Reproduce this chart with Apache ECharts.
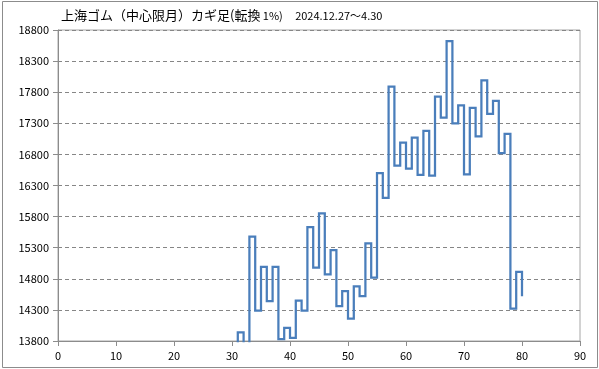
<!DOCTYPE html>
<html>
<head>
<meta charset="utf-8">
<script src="https://cdn.jsdelivr.net/npm/echarts@6/dist/echarts.min.js"></script>
<style>
html,body{margin:0;padding:0;background:#fff;}
#chart{width:599px;height:369px;}
</style>
</head>
<body>
<div id="chart"></div>
<script>
// Title
const titleMain = "上海ゴム（中心限月）カギ足(転換";
const titleSub = " 1%)     2024.12.27～4.30";

// Axis ticks
const xTicks = { min: 0, max: 90, interval: 10 };
const yTicks = { min: 13800, max: 18800, interval: 500 };

// Kagi line: first line index and the price held by each line (values below 13800 are off-chart)
const firstIndex = 30;
const kagiValues = [
  13600, 13940, 13500, 15480, 14290, 14990, 14440, 14990, 13830, 14010,
  13850, 14450, 14290, 15630, 14980, 15850, 14870, 15260, 14360, 14600,
  14160, 14680, 14520, 15370, 14820, 16500, 16100, 17890, 16620, 16990,
  16570, 17070, 16470, 17180, 16460, 17730, 17390, 18620, 17300, 17590,
  16480, 17550, 17090, 17990, 17450, 17660, 16820, 17130, 14320, 14910,
  14520
];

const seriesData = kagiValues.map((v, i) => [firstIndex + i, v]);

const chart = echarts.init(document.getElementById('chart'), null, { renderer: 'canvas' });
const labelFont = { fontFamily: 'Noto Sans CJK JP', fontSize: 11, color: '#000' };

chart.setOption({
  animation: false,
  backgroundColor: '#fff',
  graphic: [{
    type: 'rect',
    shape: { x: 2.5, y: 1.5, width: 595, height: 366 },
    style: { fill: 'none', stroke: '#8c8c8c', lineWidth: 1 },
    silent: true
  }],
  title: {
    text: '{a|' + titleMain + '}{b|' + titleSub + '}',
    left: 61,
    top: 9,
    padding: 0,
    textStyle: {
      fontWeight: 'normal',
      rich: {
        a: { fontFamily: 'Noto Sans CJK JP', fontSize: 13, fontWeight: 'normal', color: '#000' },
        b: { fontFamily: 'Noto Sans CJK JP', fontSize: 11, fontWeight: 'normal', color: '#000' }
      }
    }
  },
  grid: {
    left: 58, right: 19, top: 30, bottom: 28,
    show: true, borderColor: '#a6a6a6', borderWidth: 1,
    containLabel: false
  },
  xAxis: {
    type: 'value',
    min: xTicks.min, max: xTicks.max, interval: xTicks.interval,
    axisLine: { show: true, onZero: false, lineStyle: { color: '#8c8c8c', width: 1 } },
    axisTick: { show: true, length: 5, inside: false, lineStyle: { color: '#8c8c8c' } },
    axisLabel: Object.assign({ margin: 9 }, labelFont),
    splitLine: { show: false }
  },
  yAxis: {
    type: 'value',
    min: yTicks.min, max: yTicks.max, interval: yTicks.interval,
    axisLine: { show: true, onZero: false, lineStyle: { color: '#8c8c8c', width: 1 } },
    axisTick: { show: true, length: 5, inside: false, lineStyle: { color: '#8c8c8c' } },
    axisLabel: Object.assign({ margin: 9, formatter: v => String(v) }, labelFont),
    splitLine: { show: true, lineStyle: { color: '#868686', width: 1, type: [4, 3] } }
  },
  series: [{
    type: 'line',
    data: seriesData,
    step: 'end',
    clip: true,
    showSymbol: false,
    symbol: 'none',
    lineStyle: { color: '#4a7ebb', width: 2.25, join: 'miter', cap: 'butt' },
    silent: true
  }]
});
</script>
</body>
</html>
